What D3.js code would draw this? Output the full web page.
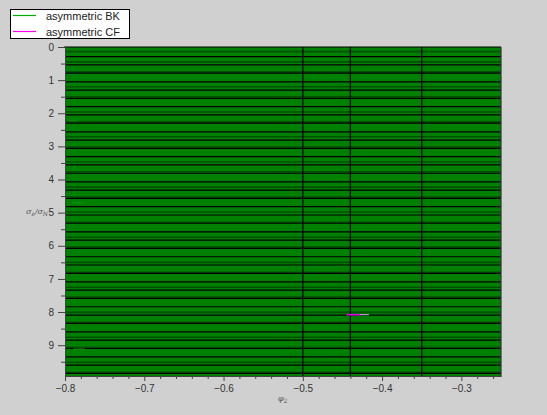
<!DOCTYPE html>
<html>
<head>
<meta charset="utf-8">
<script src="https://cdn.jsdelivr.net/npm/d3@7"></script>
<style>
  body { margin: 0; background: #d0d0d0; }
  svg { display: block; font-family: "Liberation Sans", Arial, sans-serif; }
</style>
</head>
<body>
<div id="chart"></div>
<script>
var width = 547, height = 415;

// x ticks (phi_2) and y ticks (sigma ratio)
var xMajor = [-0.8, -0.7, -0.6, -0.5, -0.4, -0.3];
var xMinor = [-0.78, -0.76, -0.74, -0.72, -0.68, -0.66, -0.64, -0.62, -0.58, -0.56, -0.54, -0.52,
              -0.48, -0.46, -0.44, -0.42, -0.38, -0.36, -0.34, -0.32, -0.28, -0.26];
var yMajor = [0, 1, 2, 3, 4, 5, 6, 7, 8, 9];
var yMinor = [0.5, 1.5, 2.5, 3.5, 4.5, 5.5, 6.5, 7.5, 8.5, 9.5];

// horizontal curves
var blackLevels = [0.29, 0.54, 0.79, 1.05, 1.30, 1.55, 1.80, 2.05, 2.30, 2.56, 2.81, 3.06, 3.31, 3.56,
                   3.81, 4.07, 4.32, 4.57, 4.82, 5.07, 5.32, 5.58, 5.83, 6.08, 6.33, 6.58, 6.83, 7.09,
                   7.34, 7.59, 7.84, 8.09, 8.34, 8.60, 8.85, 9.10, 9.35, 9.60, 9.85];
var greenLevels = [0.14, 0.45, 0.75, 1.20, 1.50, 1.96, 2.26, 2.71, 3.02, 3.47, 3.77, 4.23, 4.53,
                   4.98, 5.29, 5.74, 6.04, 6.50, 6.80, 7.25, 7.55, 8.01, 8.31, 8.76, 9.06, 9.52, 9.82];
var verticalLines = [-0.5, -0.44, -0.35];

// small stray bits of the two series
var bkBits = [[-0.795, -0.785, 2.22], [-0.79, -0.775, 4.7], [-0.79, -0.775, 9.12], [-0.79, -0.786, 3.62]];
var cfBits = [[-0.445, -0.428, 8.08]];

var svg = d3.select("#chart").append("svg")
    .attr("width", width)
    .attr("height", height);

svg.append("rect")
    .attr("width", width).attr("height", height)
    .attr("fill", "#d0d0d0");

var x = d3.scaleLinear().domain([-0.8, -0.25]).range([65, 501]);
var y = d3.scaleLinear().domain([0, 9.93]).range([47, 376]);

var plot = svg.append("g");

plot.append("rect")
    .attr("x", x(-0.8)).attr("y", y(0))
    .attr("width", x(-0.25) - x(-0.8))
    .attr("height", y(9.93) - y(0))
    .attr("fill", "#008000");

plot.selectAll(".glev")
    .data(greenLevels)
    .enter().append("line")
    .attr("x1", x(-0.8)).attr("x2", x(-0.25))
    .attr("y1", d => y(d)).attr("y2", d => y(d))
    .attr("stroke", "#005200")
    .attr("stroke-width", 1.6);

plot.selectAll(".blev")
    .data(blackLevels)
    .enter().append("line")
    .attr("x1", x(-0.8)).attr("x2", x(-0.25))
    .attr("y1", d => y(d)).attr("y2", d => y(d))
    .attr("stroke", "#000")
    .attr("stroke-width", 1.2);

plot.selectAll(".bk")
    .data(bkBits)
    .enter().append("line")
    .attr("x1", d => x(d[0])).attr("x2", d => x(d[1]))
    .attr("y1", d => y(d[2])).attr("y2", d => y(d[2]))
    .attr("stroke", "#0b8a0b")
    .attr("stroke-width", 1.5);

plot.selectAll(".vl")
    .data(verticalLines)
    .enter().append("line")
    .attr("x1", d => x(d)).attr("x2", d => x(d))
    .attr("y1", y(0)).attr("y2", y(9.93))
    .attr("stroke", "#000")
    .attr("stroke-width", 1.3);

plot.selectAll(".cf2")
    .data(cfBits)
    .enter().append("line")
    .attr("x1", d => x(d[1]) - 2).attr("x2", d => x(d[1]) + 9)
    .attr("y1", d => y(d[2])).attr("y2", d => y(d[2]))
    .attr("stroke", "#e8a8e8")
    .attr("stroke-width", 1);

plot.selectAll(".cf")
    .data(cfBits)
    .enter().append("line")
    .attr("x1", d => x(d[0])).attr("x2", d => x(d[1]))
    .attr("y1", d => y(d[2])).attr("y2", d => y(d[2]))
    .attr("stroke", "#e000e0")
    .attr("stroke-width", 1.6);

// top and right edge
svg.append("line")
    .attr("x1", x(-0.8) - 1).attr("x2", x(-0.25))
    .attr("y1", y(0)).attr("y2", y(0))
    .attr("stroke", "#000").attr("stroke-width", 1.2);
svg.append("line")
    .attr("x1", x(-0.25)).attr("x2", x(-0.25))
    .attr("y1", y(0)).attr("y2", y(9.93))
    .attr("stroke", "#333").attr("stroke-width", 1.2);

// axes
function styleAxis(g) {
  g.select(".domain").attr("stroke", "#444");
  g.selectAll(".tick line").attr("stroke", "#444");
  g.selectAll(".tick text")
      .attr("fill", "#333")
      .style("font-size", "10px")
      .style("font-family", "Liberation Sans, Arial, sans-serif");
}

svg.append("g")
    .attr("transform", "translate(" + x(-0.8) + ",0)")
    .call(d3.axisLeft(y).tickValues(yMajor).tickSize(7).tickSizeOuter(0).tickPadding(4)
      .tickFormat(d3.format("d")))
    .call(styleAxis);
svg.append("g")
    .attr("transform", "translate(" + x(-0.8) + ",0)")
    .call(d3.axisLeft(y).tickValues(yMinor).tickSize(4).tickSizeOuter(0).tickFormat(""))
    .call(styleAxis);

svg.append("g")
    .attr("transform", "translate(0," + y(9.93) + ")")
    .call(d3.axisBottom(x).tickValues(xMajor).tickSize(5).tickSizeOuter(0).tickPadding(4)
      .tickFormat(d3.format(".1f")))
    .call(styleAxis);
svg.append("g")
    .attr("transform", "translate(0," + y(9.93) + ")")
    .call(d3.axisBottom(x).tickValues(xMinor).tickSize(3).tickSizeOuter(0).tickFormat(""))
    .call(styleAxis);

// axis titles
var yl = svg.append("text")
    .attr("x", 26).attr("y", 214)
    .attr("fill", "#555")
    .style("font-size", "8px")
    .style("font-family", "DejaVu Serif, serif")
    .style("font-style", "italic");
yl.append("tspan").text("σ");
yl.append("tspan").attr("dy", 2).style("font-size", "6px").text("ε");
yl.append("tspan").attr("dy", -2).text("/σ");
yl.append("tspan").attr("dy", 2).style("font-size", "6px").text("N");

var xl = svg.append("text")
    .attr("x", 278).attr("y", 401)
    .attr("fill", "#555")
    .style("font-size", "8px")
    .style("font-family", "DejaVu Serif, serif")
    .style("font-style", "italic");
xl.append("tspan").text("φ");
xl.append("tspan").attr("dy", 2).style("font-size", "6px").style("font-style", "normal").text("2");

// legend
var legendNames = ["asymmetric BK", "asymmetric CF"];
var legendColors = ["#00b000", "#ff00ff"];
var legendItems = legendNames.map((name, i) => ({ name: name, color: legendColors[i], row: i }));

var legend = svg.append("g");
legend.append("rect")
    .attr("x", 10.5).attr("y", 9.5)
    .attr("width", 119).attr("height", 29)
    .attr("fill", "#fff").attr("stroke", "#000");

legend.selectAll(".key")
    .data(legendItems)
    .enter().append("line")
    .attr("x1", 13).attr("x2", 36)
    .attr("y1", d => 15.5 + d.row * 16)
    .attr("y2", d => 15.5 + d.row * 16)
    .style("stroke", d => d.color)
    .style("stroke-width", 1.2);

legend.selectAll(".lab")
    .data(legendItems)
    .enter().append("text")
    .attr("x", 46).attr("y", d => 19.5 + d.row * 16)
    .attr("fill", "#222")
    .style("font-size", "11px")
    .text(d => d.name);
</script>
</body>
</html>
